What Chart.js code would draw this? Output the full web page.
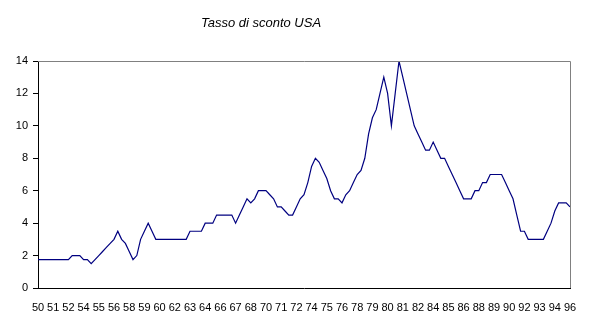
<!DOCTYPE html>
<html>
<head>
<meta charset="utf-8">
<script src="https://cdn.jsdelivr.net/npm/chart.js@4.4.1/dist/chart.umd.min.js"></script>
<style>
    html, body { margin: 0; padding: 0; background: #fff; }
    #wrap { width: 593px; height: 329px; position: relative; }
</style>
</head>
<body>
<div id="wrap"><canvas id="rateChart"></canvas></div>
<script>
// Discount rate (%), sampled roughly every four months from 1950 to 1996
const rates = [
    1.75, 1.75, 1.75, 1.75, 1.75, 1.75, 1.75, 1.75, 1.75, 2.0,
    2.0, 2.0, 1.75, 1.75, 1.5, 1.75, 2.0, 2.25, 2.5, 2.75,
    3.0, 3.5, 3.0, 2.75, 2.25, 1.75, 2.0, 3.0, 3.5, 4.0,
    3.5, 3.0, 3.0, 3.0, 3.0, 3.0, 3.0, 3.0, 3.0, 3.0,
    3.5, 3.5, 3.5, 3.5, 4.0, 4.0, 4.0, 4.5, 4.5, 4.5,
    4.5, 4.5, 4.0, 4.5, 5.0, 5.5, 5.25, 5.5, 6.0, 6.0,
    6.0, 5.75, 5.5, 5.0, 5.0, 4.75, 4.5, 4.5, 5.0, 5.5,
    5.75, 6.5, 7.5, 8.0, 7.75, 7.25, 6.75, 6.0, 5.5, 5.5,
    5.25, 5.75, 6.0, 6.5, 7.0, 7.25, 8.0, 9.5, 10.5, 11.0,
    12.0, 13.0, 12.0, 10.0, 12.0, 14.0, 13.0, 12.0, 11.0, 10.0,
    9.5, 9.0, 8.5, 8.5, 9.0, 8.5, 8.0, 8.0, 7.5, 7.0,
    6.5, 6.0, 5.5, 5.5, 5.5, 6.0, 6.0, 6.5, 6.5, 7.0,
    7.0, 7.0, 7.0, 6.5, 6.0, 5.5, 4.5, 3.5, 3.5, 3.0,
    3.0, 3.0, 3.0, 3.0, 3.5, 4.0, 4.75, 5.25, 5.25, 5.25,
    5.0
];

// Year shown under every fourth sample
const yearTicks = [
    '50', '51', '52', '54', '55', '56', '58', '59', '60', '62',
    '63', '64', '66', '67', '68', '70', '71', '72', '74', '75',
    '76', '78', '79', '80', '81', '82', '84', '85', '86', '88',
    '89', '90', '92', '93', '94', '96'
];
const tickEvery = 4;

const yTicks = [0, 2, 4, 6, 8, 10, 12, 14];

const chartTitle = 'Tasso di sconto USA';

const labels = rates.map((v, i) => i % tickEvery === 0 ? yearTicks[i / tickEvery] : '');

// Title plus the grey top/right frame of the plot area
const framePlugin = {
    id: 'frame',
    afterDraw(chart) {
        const { ctx, chartArea } = chart;
        ctx.save();
        ctx.strokeStyle = '#808080';
        ctx.lineWidth = 1;
        ctx.beginPath();
        ctx.moveTo(Math.round(chartArea.left), Math.round(chartArea.top) + 0.5);
        ctx.lineTo(Math.round(chartArea.right) + 0.5, Math.round(chartArea.top) + 0.5);
        ctx.lineTo(Math.round(chartArea.right) + 0.5, Math.round(chartArea.bottom));
        ctx.stroke();

        ctx.fillStyle = '#000';
        ctx.font = 'italic 13px "Liberation Sans", Arial, sans-serif';
        ctx.textAlign = 'center';
        ctx.textBaseline = 'middle';
        ctx.fillText(chartTitle, 261, 23);
        ctx.restore();
    }
};

const ctx = document.getElementById('rateChart').getContext('2d');
new Chart(ctx, {
    type: 'line',
    data: {
        labels: labels,
        datasets: [{
            data: rates,
            borderColor: '#000080',
            borderWidth: 1.2,
            pointRadius: 0,
            tension: 0,
            fill: false
        }]
    },
    options: {
        responsive: true,
        maintainAspectRatio: false,
        animation: false,
        layout: {
            padding: { left: 0, right: 23, top: 61, bottom: 0 }
        },
        plugins: {
            legend: { display: false },
            title: { display: false },
            tooltip: { enabled: false }
        },
        scales: {
            x: {
                type: 'category',
                offset: false,
                grid: { display: false },
                border: { display: true, color: '#000', width: 1 },
                ticks: {
                    autoSkip: false,
                    maxRotation: 0,
                    minRotation: 0,
                    padding: 5,
                    color: '#000',
                    font: { family: '"Liberation Sans", Arial, sans-serif', size: 11 }
                },
                afterFit(scale) { scale.height = 41; }
            },
            y: {
                min: 0,
                max: 14,
                afterBuildTicks(scale) {
                    scale.ticks = yTicks.map(v => ({ value: v }));
                },
                grid: {
                    display: true,
                    drawOnChartArea: false,
                    drawTicks: true,
                    tickLength: 5,
                    color: '#000'
                },
                border: { display: true, color: '#000', width: 1 },
                ticks: {
                    padding: 5,
                    color: '#000',
                    font: { family: '"Liberation Sans", Arial, sans-serif', size: 11 }
                },
                afterFit(scale) { scale.width = 38; }
            }
        }
    },
    plugins: [framePlugin]
});
</script>
</body>
</html>
